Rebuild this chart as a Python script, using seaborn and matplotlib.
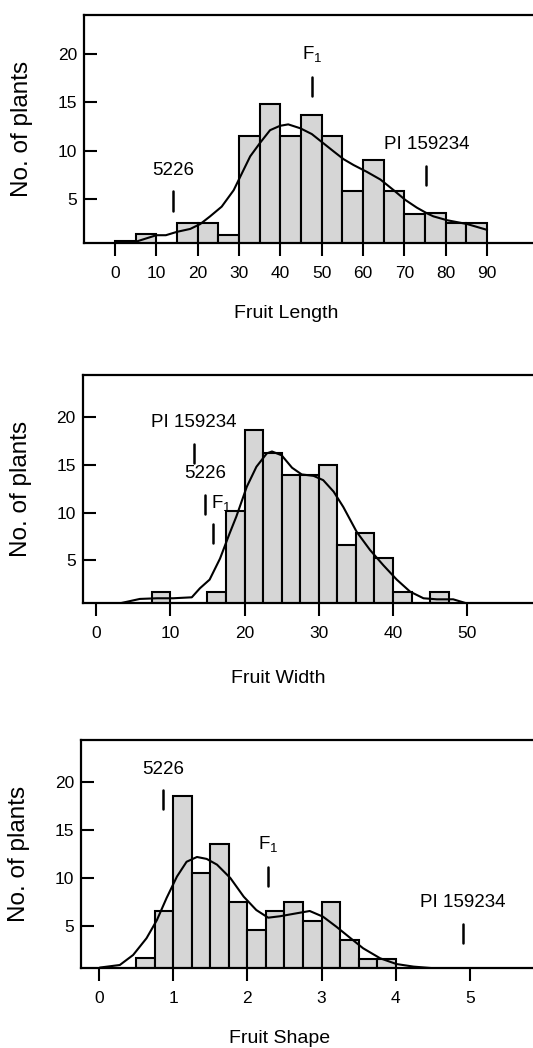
import matplotlib
matplotlib.use("Agg")
import matplotlib.pyplot as plt
import seaborn as sns

# Fruit length histogram (bin width 5)
length_bins = [0, 5, 10, 15, 20, 25, 30, 35, 40, 45, 50, 55, 60, 65, 70, 75, 80, 85]
length_counts = [0.7, 1.4, 0, 2.55, 2.55, 1.3, 11.45, 14.8, 11.45, 13.65, 11.45,
                 5.86, 9.03, 5.86, 3.45, 3.5, 2.48, 2.48]
length_curve_x = [0, 5.2, 10, 12.3, 15, 18.2, 20.6, 23, 25.8, 28.7, 30.3, 32.7, 35.1,
                  37.5, 39.9, 41.9, 44.8, 47.6, 50.4, 52.9, 55.3, 57.7, 60.9, 64.2,
                  67.4, 70.2, 73, 75.5, 77, 80.3, 85.2, 90]
length_curve_y = [0.4, 0.6, 1.25, 1.25, 1.6, 1.9, 2.4, 3.2, 4.2, 5.9, 7.3, 9.4, 10.8,
                  12.1, 12.55, 12.7, 12.3, 11.7, 10.75, 9.9, 9.1, 8.5, 7.8, 7.0,
                  5.9, 4.9, 4.1, 3.5, 3.2, 2.8, 2.4, 1.8]
length_marks = ["5226", "F$_1$", "PI 159234"]
length_mark_x = [14.0, 47.6, 75.3]
length_mark_y = [3.8, 15.6, 6.45]
length_ticks = [0, 10, 20, 30, 40, 50, 60, 70, 80, 90]

# Fruit width histogram (bin width 2.5)
width_bins = [7.5, 10, 12.5, 15, 17.5, 20, 22.5, 25, 27.5, 30, 32.5, 35, 37.5, 40, 42.5, 45]
width_counts = [1.74, 0, 0, 1.74, 10.2, 18.66, 16.2, 13.9, 13.9, 15.0, 6.6, 7.85,
                5.3, 1.67, 0, 1.67]
width_curve_x = [3.2, 5.9, 8.2, 10.4, 12.9, 14.0, 15.3, 16.7, 18.0, 18.9, 20.3, 21.6,
                 23.0, 23.7, 25.0, 26.4, 27.7, 29.3, 30.6, 32.0, 33.3, 35.1, 36.9,
                 38.7, 40.5, 42.3, 44.1, 45.9, 48.1, 49.9]
width_curve_y = [0.52, 0.98, 1.05, 1.05, 1.15, 2.1, 3.0, 5.2, 7.85, 9.6, 12.7, 14.8,
                 16.2, 16.4, 16.0, 14.7, 14.0, 13.85, 13.4, 12.2, 10.6, 8.0, 6.1,
                 4.5, 3.0, 1.74, 1.05, 0.94, 0.94, 0.52]
width_marks = ["PI 159234", "5226", "F$_1$"]
width_mark_x = [13.2, 14.7, 15.7]
width_mark_y = [15.2, 9.9, 6.8]
width_ticks = [0, 10, 20, 30, 40, 50]

# Fruit shape histogram (bin width 0.25)
shape_bins = [0.5, 0.75, 1.0, 1.25, 1.5, 1.75, 2.0, 2.25, 2.5, 2.75, 3.0, 3.25, 3.5, 3.75]
shape_counts = [1.6, 6.6, 18.6, 10.57, 13.57, 7.5, 4.57, 6.5, 7.5, 5.55, 7.5, 3.5, 1.5, 1.5]
shape_curve_x = [0.01, 0.28, 0.46, 0.64, 0.78, 0.91, 1.05, 1.18, 1.32, 1.45, 1.59,
                 1.77, 1.95, 2.12, 2.28, 2.44, 2.62, 2.84, 3.02, 3.2, 3.38, 3.56,
                 3.79, 4.01, 4.24, 4.51, 4.96, 5.4]
shape_curve_y = [0.63, 0.9, 1.95, 3.7, 5.6, 7.9, 10.15, 11.7, 12.2, 12.0, 11.4,
                 10.0, 8.05, 6.65, 5.85, 6.0, 6.25, 6.55, 5.95, 4.9, 3.77, 2.65,
                 1.6, 1.0, 0.73, 0.56, 0.52, 0.52]
shape_marks = ["5226", "F$_1$", "PI 159234"]
shape_mark_x = [0.86, 2.28, 4.9]
shape_mark_y = [17.2, 9.2, 3.2]
shape_ticks = [0, 1, 2, 3, 4, 5]

y_ticks = [5, 10, 15, 20]

sns.set_style("white")
plt.rcParams['font.family'] = ['Liberation Sans', 'DejaVu Sans']
plt.rcParams['mathtext.default'] = 'regular'
plt.rcParams['text.color'] = 'black'
plt.rcParams['axes.labelcolor'] = 'black'
plt.rcParams['xtick.color'] = 'black'
plt.rcParams['ytick.color'] = 'black'

fig = plt.figure(figsize=(5.33, 10.48), dpi=100)

panels = [
    dict(pos=[0.1576, 0.7678, 0.8424, 0.2179], bins=length_bins, counts=length_counts, bw=5,
         cx=length_curve_x, cy=length_curve_y, marks=length_marks, mx=length_mark_x,
         my=length_mark_y, ticks=length_ticks, xlim=(-7.5, 101.1), ylim=(0.41, 24.0),
         xlabel="Fruit Length", lx=0.45, ly=-0.27),
    dict(pos=[0.1552, 0.4243, 0.8448, 0.2179], bins=width_bins, counts=width_counts, bw=2.5,
         cx=width_curve_x, cy=width_curve_y, marks=width_marks, mx=width_mark_x,
         my=width_mark_y, ticks=width_ticks, xlim=(-1.79, 58.85), ylim=(0.52, 24.4),
         xlabel="Fruit Width", lx=0.435, ly=-0.29),
    dict(pos=[0.1520, 0.0761, 0.8480, 0.2179], bins=shape_bins, counts=shape_counts, bw=0.25,
         cx=shape_curve_x, cy=shape_curve_y, marks=shape_marks, mx=shape_mark_x,
         my=shape_mark_y, ticks=shape_ticks, xlim=(-0.243, 5.85), ylim=(0.56, 24.45),
         xlabel="Fruit Shape", lx=0.44, ly=-0.27),
]

mark_len = 2.0

for p in panels:
    ax = fig.add_axes(p["pos"])
    centers = [b + p["bw"] / 2 for b in p["bins"]]
    edges = p["bins"] + [p["bins"][-1] + p["bw"]]
    sns.histplot(x=centers, weights=p["counts"], bins=edges, ax=ax,
                 color="#d6d6d6", edgecolor="black", linewidth=1.5, alpha=1)
    sns.lineplot(x=p["cx"], y=p["cy"], ax=ax, color="black", linewidth=1.5)

    # parent / F1 markers
    for lab, mx, my in zip(p["marks"], p["mx"], p["my"]):
        ax.plot([mx, mx], [my, my + mark_len], color="black", linewidth=1.8)
        if lab == "F$_1$" and p["xlabel"] == "Fruit Width":
            # F1 label sits beside the 5226 marker in this panel
            ax.text(mx - 0.15, my + mark_len + 2.2, lab, ha="left", va="center", fontsize=13.5)
        else:
            ax.text(mx, my + mark_len + 1.3, lab, ha="center", va="bottom", fontsize=13.5)

    ax.set_xlim(p["xlim"])
    ax.set_ylim(p["ylim"])
    ax.set_xticks(p["ticks"])
    ax.set_yticks(y_ticks)
    ax.tick_params(axis="x", bottom=True, direction="out", length=9.5, width=1.5,
                   pad=7, labelsize=12.5)
    ax.tick_params(axis="y", left=True, direction="in", length=9.5, width=1.5,
                   pad=5, labelsize=12.5)
    for s in ["top", "left", "bottom"]:
        ax.spines[s].set_linewidth(1.6)
        ax.spines[s].set_color("black")
    ax.spines["right"].set_visible(False)
    ax.set_xlabel(p["xlabel"], fontsize=14)
    ax.xaxis.set_label_coords(p["lx"], p["ly"])
    ax.set_ylabel("No. of plants", fontsize=17.5)
    ax.yaxis.set_label_coords(-0.113, 0.5)

plt.savefig("out.png", dpi=100)
